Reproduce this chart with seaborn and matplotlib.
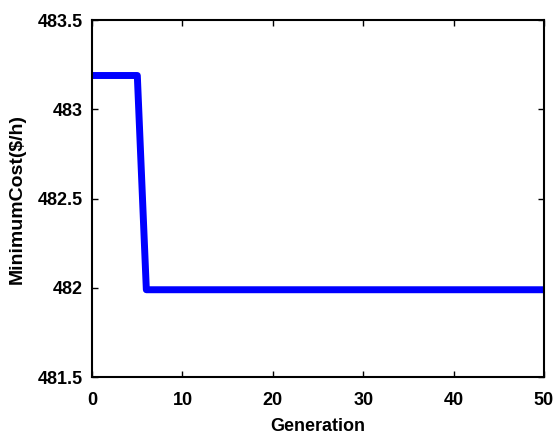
import matplotlib
matplotlib.use("Agg")
import matplotlib.pyplot as plt
import seaborn as sns
import pandas as pd

# breakpoints of the convergence curve
generation = [0, 5, 6, 50]
min_cost = [483.19, 483.19, 481.99, 481.99]

x_ticks = [0, 10, 20, 30, 40, 50]
y_ticks = [481.5, 482, 482.5, 483, 483.5]
y_labels = ["481.5", "482", "482.5", "483", "483.5"]

df = pd.DataFrame({"Generation": generation, "cost": min_cost})

sns.set_style("ticks")
plt.rcParams["font.family"] = ["Liberation Sans", "DejaVu Sans"]
plt.rcParams["font.weight"] = "bold"
plt.rcParams["text.color"] = "black"
plt.rcParams["axes.labelcolor"] = "black"
plt.rcParams["xtick.color"] = "black"
plt.rcParams["ytick.color"] = "black"
plt.rcParams["axes.edgecolor"] = "black"

fig = plt.figure(figsize=(5.55, 4.48), dpi=100)
ax = fig.add_axes([0.166, 0.158, 0.814, 0.797])

sns.lineplot(data=df, x="Generation", y="cost", ax=ax, color="#0000ff", linewidth=5)

ax.set_xlim(0, 50)
ax.set_ylim(481.5, 483.5)
ax.set_xticks(x_ticks)
ax.set_yticks(y_ticks)
ax.set_yticklabels(y_labels)
ax.tick_params(direction="in", length=4, width=1, labelsize=13,
               top=True, right=True)
ax.tick_params(axis="x", pad=11)
ax.tick_params(axis="y", pad=7)
for lab in ax.get_xticklabels() + ax.get_yticklabels():
    lab.set_fontweight("bold")
for s in ax.spines.values():
    s.set_visible(True)
    s.set_linewidth(1.5)
ax.set_xlabel("Generation", fontsize=13, fontweight="bold", labelpad=6)
ax.set_ylabel("MinimumCost($/h)", fontsize=14, fontweight="bold", labelpad=8)

fig.savefig("out.png", dpi=100)
